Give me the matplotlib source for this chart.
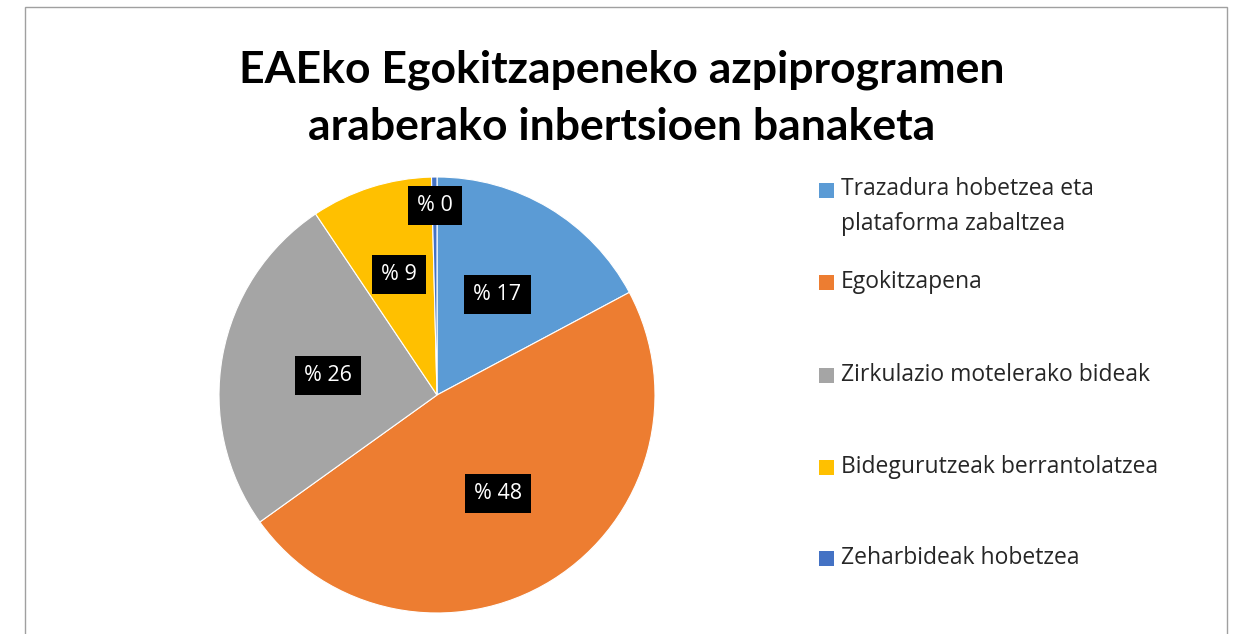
import matplotlib
matplotlib.use("Agg")
import matplotlib.pyplot as plt
from matplotlib.patches import Rectangle
import numpy as np

categories = ["Trazadura hobetzea eta\nplataforma zabaltzea",
              "Egokitzapena",
              "Zirkulazio motelerako bideak",
              "Bidegurutzeak berrantolatzea",
              "Zeharbideak hobetzea"]
values = [17.2, 47.9, 25.5, 9.0, 0.4]
labels = ["% 17", "% 48", "% 26", "% 9", "% 0"]
colors = ["#5B9BD5", "#ED7D31", "#A5A5A5", "#FFC000", "#4472C4"]
label_r = [0.54, 0.53, 0.51, 0.58, 0.87]

title = "EAEko Egokitzapeneko azpiprogramen\naraberako inbertsioen banaketa"

W, H = 1233, 634
fig = plt.figure(figsize=(W/100, H/100), dpi=100)
fig.patch.set_facecolor("white")

# outer border
fig.add_artist(Rectangle((25/W, -0.01), 1202/W, (H-7)/H + 0.01, transform=fig.transFigure,
                         fill=False, edgecolor="#A0A0A0", linewidth=1))

cx, cy, r = 437, 395, 218
ax = fig.add_axes([(cx-r)/W, (H-cy-r)/H, 2*r/W, 2*r/H])
wedges, _ = ax.pie(values, colors=colors, startangle=90, counterclock=False,
                   wedgeprops=dict(edgecolor="white", linewidth=0.8), radius=1)
ax.set_xlim(-1, 1); ax.set_ylim(-1, 1)
ax.set_aspect("equal")
ax.axis("off")

for w, lab, lr in zip(wedges, labels, label_r):
    ang = np.deg2rad((w.theta1 + w.theta2) / 2)
    ax.text(lr*np.cos(ang), lr*np.sin(ang), lab, ha="center", va="center",
            fontsize=15.5, color="white", family="Open Sans",
            bbox=dict(boxstyle="square,pad=0.42", facecolor="black", edgecolor="none"))

fig.text(622/W, 1 - 98/H, title, ha="center", va="center", fontsize=32,
         fontweight="bold", family="Lato", linespacing=1.5)

ys = [190, 282, 375, 467, 558]
text_y = [206.5, 282, 375, 467, 558]
for y, ty, cat, col in zip(ys, text_y, categories, colors):
    fig.add_artist(Rectangle((819/W, 1 - (y+7.5)/H), 15/W, 15/H, transform=fig.transFigure,
                             facecolor=col, edgecolor="none"))
    fig.text(841/W, 1 - ty/H, cat, ha="left", va="center",
             fontsize=16.5, family="Open Sans", color="#262626", linespacing=1.6)

fig.savefig("out.png", dpi=100, facecolor="white")
